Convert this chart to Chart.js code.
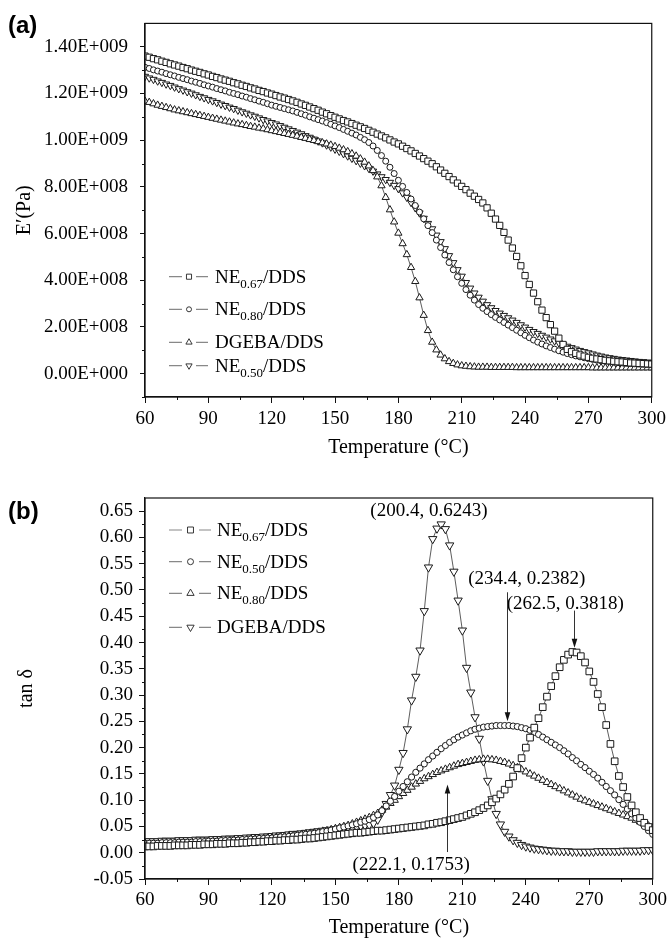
<!DOCTYPE html>
<html><head><meta charset="utf-8">
<script src="https://cdn.jsdelivr.net/npm/chart.js@4.4.0/dist/chart.umd.min.js"></script>
<style>
html,body{margin:0;padding:0;background:#fff;}
#wrap{position:relative;width:671px;height:941px;overflow:hidden;}
#ca{position:absolute;left:0;top:0;}
#cb{position:absolute;left:0;top:460px;}
</style></head><body>
<div id="wrap">
<canvas id="ca" width="671" height="460"></canvas>
<canvas id="cb" width="671" height="481"></canvas>
</div>
<script>
// ---------- DATA ----------
const temps = [60,62,64,66,68,70,72,74,76,78,80,82,84,86,88,90,92,94,96,98,100,102,104,106,108,110,112,114,116,118,120,122,124,126,128,130,132,134,136,138,140,142,144,146,148,150,152,154,156,158,160,162,164,166,168,170,172,174,176,178,180,182,184,186,188,190,192,194,196,198,200,202,204,206,208,210,212,214,216,218,220,222,224,226,228,230,232,234,236,238,240,242,244,246,248,250,252,254,256,258,260,262,264,266,268,270,272,274,276,278,280,282,284,286,288,290,292,294,296,298,300];

// (a) storage modulus E', in units of 1E+008 Pa
const eNE067 = [13.60,13.55,13.49,13.44,13.38,13.33,13.27,13.22,13.17,13.11,
13.06,13.00,12.95,12.90,12.84,12.79,12.73,12.68,12.62,12.57,
12.52,12.46,12.41,12.35,12.30,12.24,12.19,12.13,12.08,12.02,
11.97,11.91,11.85,11.80,11.74,11.68,11.62,11.55,11.49,11.42,
11.35,11.28,11.20,11.13,11.05,10.98,10.91,10.84,10.78,10.71,
10.64,10.57,10.50,10.42,10.34,10.26,10.18,10.10,10.01,9.92,
9.84,9.74,9.64,9.54,9.43,9.32,9.21,9.10,8.99,8.86,
8.72,8.58,8.44,8.30,8.16,8.02,7.88,7.73,7.60,7.46,
7.31,7.10,6.87,6.62,6.35,6.05,5.72,5.38,5.02,4.62,
4.20,3.82,3.45,3.08,2.72,2.40,2.10,1.82,1.52,1.25,
1.04,0.94,0.87,0.80,0.75,0.70,0.66,0.63,0.60,0.57,
0.55,0.53,0.51,0.50,0.48,0.46,0.45,0.44,0.43,0.42,
0.41];
const eNE080 = [13.12,13.07,13.01,12.96,12.91,12.85,12.80,12.75,12.69,12.64,
12.59,12.53,12.48,12.43,12.37,12.32,12.27,12.21,12.16,12.11,
12.05,12.00,11.95,11.89,11.84,11.78,11.73,11.67,11.62,11.56,
11.50,11.45,11.40,11.35,11.30,11.25,11.19,11.13,11.07,11.00,
10.94,10.88,10.82,10.75,10.68,10.61,10.54,10.46,10.38,10.30,
10.22,10.12,10.02,9.90,9.75,9.56,9.34,9.10,8.84,8.57,
8.28,8.02,7.76,7.48,7.20,6.92,6.63,6.34,6.04,5.72,
5.40,5.08,4.76,4.45,4.15,3.87,3.60,3.36,3.15,2.96,
2.80,2.66,2.53,2.41,2.30,2.19,2.08,1.97,1.86,1.75,
1.64,1.54,1.44,1.35,1.27,1.19,1.12,1.05,0.98,0.92,
0.86,0.81,0.76,0.72,0.68,0.64,0.61,0.58,0.55,0.53,
0.51,0.49,0.47,0.46,0.44,0.43,0.42,0.41,0.40,0.39,
0.38];
const eDGEBA = [11.67,11.62,11.56,11.50,11.45,11.40,11.35,11.30,11.26,11.22,
11.18,11.14,11.10,11.06,11.02,10.98,10.94,10.90,10.86,10.82,
10.78,10.74,10.70,10.67,10.63,10.59,10.56,10.52,10.49,10.45,
10.41,10.37,10.33,10.29,10.25,10.21,10.17,10.12,10.08,10.03,
9.99,9.94,9.89,9.84,9.79,9.73,9.66,9.59,9.51,9.42,
9.32,9.20,9.06,8.90,8.70,8.43,8.05,7.55,7.02,6.50,
6.02,5.57,5.10,4.55,3.95,3.25,2.50,1.85,1.35,1.02,
0.80,0.64,0.52,0.44,0.38,0.34,0.32,0.30,0.29,0.28,
0.28,0.28,0.27,0.27,0.27,0.27,0.27,0.27,0.26,0.26,
0.26,0.26,0.26,0.26,0.26,0.26,0.26,0.26,0.26,0.26,
0.26,0.26,0.26,0.26,0.26,0.26,0.25,0.25,0.25,0.25,
0.25,0.25,0.25,0.25,0.25,0.25,0.25,0.25,0.25,0.25,
0.25];
const eNE050 = [12.73,12.66,12.60,12.53,12.47,12.40,12.34,12.27,12.20,12.14,
12.07,12.01,11.94,11.87,11.81,11.74,11.68,11.61,11.54,11.48,
11.41,11.35,11.28,11.21,11.15,11.08,11.02,10.95,10.88,10.82,
10.75,10.69,10.62,10.55,10.48,10.41,10.34,10.27,10.19,10.12,
10.04,9.96,9.88,9.79,9.70,9.61,9.52,9.42,9.32,9.22,
9.12,9.01,8.90,8.79,8.67,8.55,8.43,8.31,8.19,8.06,
7.92,7.74,7.55,7.33,7.10,6.88,6.65,6.43,6.20,5.93,
5.65,5.35,5.05,4.75,4.45,4.17,3.90,3.66,3.45,3.27,
3.10,2.95,2.82,2.70,2.59,2.49,2.39,2.29,2.19,2.09,
1.99,1.89,1.80,1.72,1.64,1.56,1.48,1.40,1.32,1.24,
1.17,1.11,1.05,0.99,0.94,0.89,0.84,0.79,0.75,0.71,
0.68,0.65,0.62,0.60,0.58,0.56,0.54,0.52,0.51,0.49,
0.48];

// (b) tan delta
const tNE067 = [.012,.012,.012,.013,.013,.013,.013,.014,.014,.014,
.014,.015,.015,.015,.016,.016,.016,.017,.017,.017,
.018,.018,.018,.019,.019,.020,.020,.021,.021,.022,
.022,.023,.023,.024,.024,.025,.025,.026,.027,.027,
.028,.029,.030,.031,.032,.033,.034,.035,.036,.037,
.038,.038,.039,.040,.041,.042,.042,.043,.044,.045,
.046,.047,.048,.049,.050,.051,.052,.054,.055,.057,
.058,.060,.062,.064,.066,.068,.071,.074,.077,.081,
.085,.090,.096,.103,.111,.120,.131,.145,.161,.180,
.200,.219,.238,.256,.277,.297,.317,.336,.353,.367,
.377,.382,.381,.374,.362,.345,.325,.302,.277,.243,
.207,.174,.146,.125,.106,.090,.077,.066,.057,.049,
.043];
const tNE050 = [.018,.018,.018,.018,.019,.019,.019,.019,.020,.020,
.020,.020,.021,.021,.021,.022,.022,.022,.023,.023,
.023,.024,.024,.025,.025,.026,.026,.027,.027,.028,
.028,.029,.030,.030,.031,.032,.033,.034,.035,.036,
.037,.038,.040,.041,.043,.045,.047,.049,.051,.053,
.055,.058,.060,.063,.067,.072,.080,.089,.098,.107,
.117,.126,.135,.144,.153,.161,.169,.177,.184,.191,
.198,.204,.210,.215,.220,.224,.228,.232,.235,.237,
.239,.240,.241,.242,.242,.242,.242,.241,.240,.238,
.236,.233,.229,.225,.220,.215,.210,.205,.200,.194,
.188,.181,.175,.168,.162,.155,.149,.142,.134,.126,
.118,.110,.101,.092,.083,.074,.066,.058,.050,.042,
.035];
const tNE080 = [.015,.015,.015,.016,.016,.016,.016,.017,.017,.017,
.018,.018,.018,.019,.019,.019,.020,.020,.021,.021,
.022,.022,.023,.023,.024,.024,.025,.026,.026,.027,
.028,.029,.030,.031,.032,.033,.034,.035,.036,.037,
.038,.039,.041,.042,.044,.046,.048,.050,.052,.055,
.058,.061,.064,.067,.071,.075,.081,.087,.094,.100,
.107,.113,.119,.125,.131,.136,.141,.145,.149,.153,
.156,.159,.162,.165,.168,.170,.172,.174,.176,.177,
.178,.178,.177,.176,.174,.172,.169,.166,.162,.158,
.154,.150,.146,.142,.138,.134,.130,.126,.122,.118,
.114,.110,.106,.102,.099,.096,.093,.090,.087,.084,
.081,.078,.075,.072,.069,.066,.062,.059,.055,.051,
.047];
const tDGEBA = [.022,.022,.022,.022,.023,.023,.023,.023,.024,.024,
.024,.024,.025,.025,.025,.025,.026,.026,.026,.027,
.027,.027,.028,.028,.029,.029,.030,.030,.031,.031,
.032,.033,.033,.034,.035,.036,.036,.037,.038,.039,
.040,.041,.042,.043,.044,.045,.046,.047,.048,.049,
.050,.051,.052,.053,.056,.063,.077,.093,.110,.128,
.158,.190,.235,.290,.335,.385,.460,.543,.597,.617,
.625,.616,.585,.535,.480,.423,.352,.305,.258,.217,
.174,.137,.102,.074,.054,.040,.031,.024,.019,.015,
.012,.010,.008,.007,.006,.005,.004,.004,.003,.003,
.003,.002,.002,.002,.002,.002,.002,.003,.003,.003,
.003,.003,.003,.004,.004,.004,.004,.004,.005,.005,
.005];

// ticks
const xTicks = [60,90,120,150,180,210,240,270,300];
const xTickLabels = ['60','90','120','150','180','210','240','270','300'];
const xMinor = [75,105,135,165,195,225,255,285];
const yTicksA = [0,2,4,6,8,10,12,14];
const yTickLabelsA = ['0.00E+000','2.00E+008','4.00E+008','6.00E+008','8.00E+008','1.00E+009','1.20E+009','1.40E+009'];
const yMinorA = [-1,1,3,5,7,9,11,13];
const yTicksB = [-0.05,0,0.05,0.10,0.15,0.20,0.25,0.30,0.35,0.40,0.45,0.50,0.55,0.60,0.65];
const yTickLabelsB = ['-0.05','0.00','0.05','0.10','0.15','0.20','0.25','0.30','0.35','0.40','0.45','0.50','0.55','0.60','0.65'];
const yMinorB = [-0.025,0.025,0.075,0.125,0.175,0.225,0.275,0.325,0.375,0.425,0.475,0.525,0.575,0.625];

const namesA = ['NE<sub>0.67</sub>/DDS','NE<sub>0.80</sub>/DDS','DGEBA/DDS','NE<sub>0.50</sub>/DDS'];
const namesB = ['NE<sub>0.67</sub>/DDS','NE<sub>0.50</sub>/DDS','NE<sub>0.80</sub>/DDS','DGEBA/DDS'];
const peakLabels = ['(200.4, 0.6243)','(234.4, 0.2382)','(262.5, 0.3818)','(222.1, 0.1753)'];
const peakLabelAt = [[194.2,0.650],[240.5,0.520],[258.7,0.4736],[185.8,-0.024]];
const peakArrows = [[231.1,0.4956,0.2504],[262.66,0.4608,0.390],[202.8,0.0013,0.130]];

// ---------- STYLE ----------
const SERIF = "'Liberation Serif','Times New Roman',serif";
const SANS = "'Liberation Sans',Arial,sans-serif";
const marksA = [{s:'rect',r:4.4,rot:0},{s:'circle',r:3.0,rot:0},{s:'triangle',r:4.2,rot:0},{s:'triangle',r:4.2,rot:180}];
const marksB = [{s:'rect',r:4.7,rot:0},{s:'circle',r:3.1,rot:0},{s:'triangle',r:4.3,rot:0},{s:'triangle',r:4.8,rot:180}];
const legendMarksA = [{s:'rect',r:3.6,rot:0},{s:'circle',r:2.5,rot:0},{s:'triangle',r:3.6,rot:0},{s:'triangle',r:3.6,rot:180}];
const legendMarksB = [{s:'rect',r:4.2,rot:0},{s:'circle',r:3.0,rot:0},{s:'triangle',r:4.2,rot:0},{s:'triangle',r:4.2,rot:180}];

function drawMarker(ctx, m, x, y){
  ctx.beginPath();
  if (m.s === 'circle') ctx.arc(x, y, m.r, 0, Math.PI*2);
  else if (m.s === 'rect') { const h = Math.SQRT1_2*m.r; ctx.rect(x-h, y-h, 2*h, 2*h); }
  else {
    let a = m.rot*Math.PI/180;
    for (let k=0;k<3;k++){ const px=x+Math.sin(a)*m.r, py=y-Math.cos(a)*m.r; if(k) ctx.lineTo(px,py); else ctx.moveTo(px,py); a += 2*Math.PI/3; }
    ctx.closePath();
  }
  ctx.fill(); ctx.stroke();
}

function drawRich(ctx, str, x, y, size, subSize){
  const parts = str.split(/(<sub>.*?<\/sub>)/).filter(p=>p.length);
  ctx.textAlign='left'; ctx.textBaseline='alphabetic'; ctx.fillStyle='#000';
  parts.forEach(p=>{
    const m = p.match(/^<sub>(.*)<\/sub>$/);
    if (m){ ctx.font = subSize+'px '+SERIF; ctx.fillText(m[1], x, y+5); x += ctx.measureText(m[1]).width; }
    else { ctx.font = size+'px '+SERIF; ctx.fillText(p, x, y); x += ctx.measureText(p).width; }
  });
}

const decor = {
  id:'decor',
  afterDraw(chart, args, o){
    const {ctx, chartArea:a, scales} = chart;
    const sx = scales.x, sy = scales.y;
    ctx.save();
    ctx.strokeStyle='#111'; ctx.lineWidth=1.2;
    ctx.strokeRect(a.left, a.top, a.right-a.left, a.bottom-a.top);
    ctx.lineWidth=1; ctx.beginPath();
    xMinor.forEach(v=>{ const p=Math.round(sx.getPixelForValue(v))+0.5; ctx.moveTo(p,a.bottom); ctx.lineTo(p,a.bottom+o.minorLen); });
    o.yMinor.forEach(v=>{ const p=Math.round(sy.getPixelForValue(v))+0.5; ctx.moveTo(a.left,p); ctx.lineTo(a.left-o.minorLen,p); });
    ctx.stroke();
    ctx.fillStyle='#000'; ctx.font='bold 24px '+SANS; ctx.textAlign='left'; ctx.textBaseline='alphabetic';
    ctx.fillText(o.panel, 8, o.panelY);
    const L = o.legend;
    o.names.forEach((nm,i)=>{
      const yy = L.rows[i];
      ctx.strokeStyle='#888'; ctx.lineWidth=1.2; ctx.beginPath();
      ctx.moveTo(L.x0,yy); ctx.lineTo(L.x1,yy); ctx.moveTo(L.x2,yy); ctx.lineTo(L.x3,yy); ctx.stroke();
      ctx.fillStyle='#fff'; ctx.strokeStyle='#222'; ctx.lineWidth=0.9;
      drawMarker(ctx, o.marks[i], L.xm, yy);
      drawRich(ctx, nm, L.xt, yy+6, 19, 13);
    });
    if (o.annotate){
      ctx.fillStyle='#000'; ctx.font='19px '+SERIF; ctx.textAlign='center'; ctx.textBaseline='middle';
      peakLabels.forEach((t,i)=>{ ctx.fillText(t, sx.getPixelForValue(peakLabelAt[i][0]), sy.getPixelForValue(peakLabelAt[i][1])); });
      peakArrows.forEach(ar=>{
        const x = Math.round(sx.getPixelForValue(ar[0]))+0.5, y0 = sy.getPixelForValue(ar[1]), y1 = sy.getPixelForValue(ar[2]);
        const dir = y1 > y0 ? 1 : -1;
        ctx.strokeStyle='#333'; ctx.lineWidth=1; ctx.beginPath(); ctx.moveTo(x,y0); ctx.lineTo(x,y1-dir*6); ctx.stroke();
        ctx.fillStyle='#111'; ctx.beginPath(); ctx.moveTo(x,y1); ctx.lineTo(x-2.8,y1-dir*9); ctx.lineTo(x+2.8,y1-dir*9); ctx.closePath(); ctx.fill();
      });
    }
    ctx.restore();
  }
};

function ds(label, vals, m){
  return {label, data: temps.map((t,i)=>({x:t,y:vals[i]})), showLine:true, borderColor:'#333', borderWidth:0.8,
    pointStyle:m.s, pointRadius:m.r, pointRotation:m.rot, pointBackgroundColor:'#fff', pointBorderColor:'#1a1a1a',
    pointBorderWidth:1, fill:false, tension:0};
}

function makeChart(canvas, cfg){
  return new Chart(canvas, {
    type:'line',
    data:{datasets: cfg.datasets},
    options:{
      responsive:false, animation:false, events:[],
      layout:{padding:cfg.pad},
      plugins:{legend:{display:false}, tooltip:{enabled:false}, decor:cfg.decor},
      scales:{
        x:{type:'linear', min:60, max:300,
          afterBuildTicks: ax=>{ ax.ticks = xTicks.map(v=>({value:v})); },
          afterFit: ax=>{ ax.height = cfg.xH; },
          grid:{drawOnChartArea:false, drawTicks:true, tickLength:6, color:'#111', tickWidth:1},
          border:{display:true, color:'#111', width:1.2},
          ticks:{autoSkip:false, maxRotation:0, padding:cfg.xPad, color:'#000', font:{family:SERIF, size:19},
            callback:(v,i)=>xTickLabels[i]},
          title:{display:true, text:'Temperature (°C)', color:'#000', font:{family:SERIF, size:20}, padding:{top:0,bottom:cfg.xTitlePad}}
        },
        y:{type:'linear', min:cfg.yMin, max:cfg.yMax,
          afterBuildTicks: ax=>{ ax.ticks = cfg.yTicks.map(v=>({value:v})); },
          afterFit: ax=>{ ax.width = 145; },
          grid:{drawOnChartArea:false, drawTicks:true, tickLength:cfg.yTickLen, color:'#111', tickWidth:1},
          border:{display:true, color:'#111', width:1.2},
          ticks:{autoSkip:false, padding:cfg.yPad, color:'#000', font:{family:SERIF, size:19},
            callback:(v,i)=>cfg.yLabels[i]},
          title:{display:true, text:cfg.yTitle, color:'#000', font:{family:SERIF, size:20}, padding:{top:cfg.yTitlePad,bottom:0}}
        }
      }
    },
    plugins:[decor]
  });
}

makeChart(document.getElementById('ca'), {
  datasets:[ds(namesA[0],eNE067,marksA[0]), ds(namesA[1],eNE080,marksA[1]), ds(namesA[2],eDGEBA,marksA[2]), ds(namesA[3],eNE050,marksA[3])],
  pad:{top:17,right:14,left:0,bottom:0}, xH:63, xPad:5, xTitlePad:0,
  yMin:-1, yMax:15, yTicks:yTicksA, yLabels:yTickLabelsA, yTickLen:5, yPad:12,
  yTitle:'E\u2032(Pa)', yTitlePad:13,
  decor:{minorLen:3, yMinor:yMinorA, panel:'(a)', panelY:33, names:namesA, marks:legendMarksA,
    legend:{x0:169,x1:182,xm:189,x2:196,x3:208,xt:215, rows:[276.7,309.3,342.3,365.7]}, annotate:false}
});

makeChart(document.getElementById('cb'), {
  datasets:[ds(namesB[0],tNE067,marksB[0]), ds(namesB[1],tNE050,marksB[1]), ds(namesB[2],tNE080,marksB[2]), ds(namesB[3],tDGEBA,marksB[3])],
  pad:{top:38,right:14,left:0,bottom:0}, xH:62, xPad:4, xTitlePad:1,
  yMin:-0.05, yMax:0.675, yTicks:yTicksB, yLabels:yTickLabelsB, yTickLen:6, yPad:6,
  yTitle:'tan \u03b4', yTitlePad:15,
  decor:{minorLen:3, yMinor:yMinorB, panel:'(b)', panelY:59, names:namesB, marks:legendMarksB,
    legend:{x0:169,x1:182,xm:190.5,x2:199,x3:211,xt:217, rows:[70,101.7,133.3,167.3]}, annotate:true}
});
</script>
</body></html>
